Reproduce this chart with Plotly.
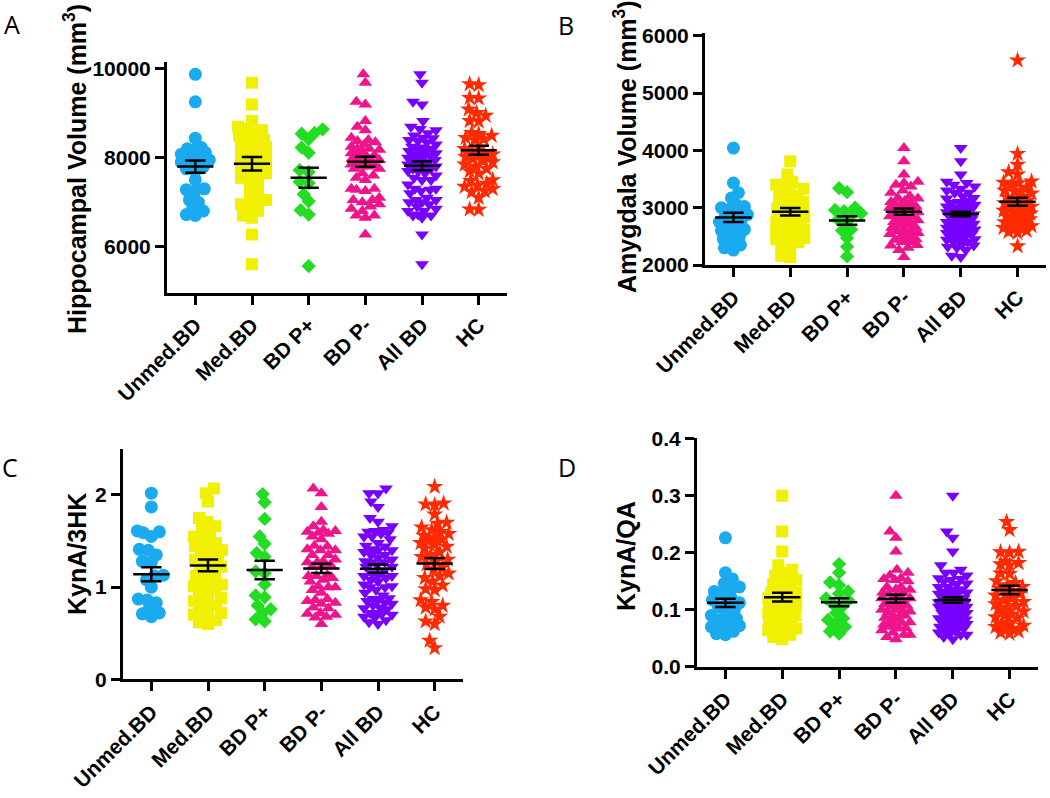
import math
import numpy as np
import plotly.graph_objects as go

W, H = 1050, 798

categories = ["Unmed.BD", "Med.BD", "BD P+", "BD P-", "All BD", "HC"]
colors = ["#1AAAF0", "#F0F000", "#22DD22", "#F0148C", "#7800FF", "#FF2A00"]
symbols = ["circle", "square", "diamond", "triangle-up", "triangle-down", "star"]
msizes = [13, 12, 11, 12, 12, 13]

# ---------------- Panel A : Hippocampal volume ----------------
A_unmed = [9880, 9260, 8440, 8230, 8200, 8180, 8120, 8080, 8030, 7980, 7950, 7900, 7850,
           7800, 7750, 7700, 7500, 7300, 7280, 7250, 7050, 7000, 6850, 6800, 6720, 6700]
A_med = [9690, 9200, 8830, 8700, 8650, 8620, 8550, 8500, 8450, 8400, 8380, 8350, 8300, 8250,
         8200, 8150, 8100, 8050, 8000, 7950, 7900, 7850, 7800, 7750, 7700, 7650, 7600, 7550,
         7500, 7400, 7300, 7200, 7100, 7050, 7000, 6950, 6900, 6800, 6700, 6650, 6270, 5600]
A_pplus = [8640, 8560, 8540, 8420, 8230, 8110, 7720, 7680, 7460, 7430, 7180, 7020, 6820, 6720, 5560]
A_hc = [9660, 9640, 9350, 9340, 9090, 9010, 8950, 8830, 8820, 8560, 8540, 8500, 8450, 8420,
        8400, 8230, 8200, 8150, 8100, 8080, 8050, 8020, 8000, 7980, 7950, 7900, 7850, 7800,
        7750, 7700, 7650, 7500, 7480, 7420, 7380, 7350, 7300, 7250, 7230, 7100, 6840, 6830]
A_mean = [7800, 7865, 7550, 7910, 7820, 8170]
A_sem = [140, 150, 225, 115, 100, 100]

# ---------------- Panel B : Amygdala volume ----------------
B_unmed = [4040, 3430, 3260, 3170, 3050, 3020, 3000, 2980, 2920, 2880, 2850, 2800, 2780,
           2750, 2700, 2650, 2620, 2600, 2550, 2500, 2450, 2400, 2350, 2300, 2260]
B_med = [3810, 3580, 3450, 3400, 3370, 3330, 3300, 3260, 3200, 3160, 3120, 3100, 3080, 3050,
         3020, 3000, 2980, 2970, 2940, 2900, 2880, 2870, 2840, 2810, 2790, 2760, 2720, 2700,
         2690, 2650, 2620, 2600, 2590, 2560, 2540, 2500, 2470, 2450, 2440, 2400, 2340, 2320,
         2160, 2140]
B_pplus = [3340, 3270, 3000, 2960, 2940, 2900, 2880, 2790, 2760, 2620, 2600, 2470, 2320, 2150]
B_hc = [5570, 3940, 3750, 3620, 3580, 3460, 3440, 3430, 3400, 3350, 3300, 3300, 3280, 3250,
        3200, 3180, 3150, 3120, 3100, 3080, 3050, 3020, 3000, 3000, 2980, 2950, 2950, 2920,
        2900, 2900, 2880, 2850, 2820, 2800, 2780, 2750, 2720, 2700, 2700, 2680, 2650, 2650,
        2620, 2600, 2580, 2560, 2330]
B_mean = [2830, 2930, 2775, 2930, 2890, 3105]
B_sem = [80, 65, 75, 55, 40, 70]

# ---------------- Panel C : KynA/3HK ----------------
C_unmed = [2.02, 1.87, 1.61, 1.60, 1.59, 1.55, 1.41, 1.40, 1.35, 1.28, 1.27, 1.13, 1.12,
           1.08, 1.00, 0.87, 0.86, 0.83, 0.77, 0.72, 0.71, 0.68]
C_med = [2.07, 2.02, 1.93, 1.75, 1.71, 1.66, 1.62, 1.58, 1.55, 1.52, 1.48, 1.45, 1.44, 1.40,
         1.38, 1.35, 1.32, 1.30, 1.27, 1.24, 1.22, 1.22, 1.18, 1.15, 1.12, 1.10, 1.06, 1.03,
         1.01, 1.00, 0.97, 0.94, 0.91, 0.88, 0.85, 0.82, 0.80, 0.78, 0.76, 0.72, 0.70, 0.67,
         0.64, 0.62, 0.60]
C_pplus = [2.01, 1.92, 1.74, 1.55, 1.47, 1.37, 1.33, 1.17, 1.15, 1.03, 0.91, 0.89, 0.80,
           0.76, 0.72, 0.65, 0.63]
C_hc = [2.09, 1.91, 1.90, 1.89, 1.79, 1.70, 1.69, 1.65, 1.62, 1.60, 1.58, 1.56, 1.54, 1.52,
        1.50, 1.48, 1.46, 1.44, 1.42, 1.38, 1.35, 1.33, 1.30, 1.28, 1.25, 1.22, 1.19, 1.15,
        1.12, 1.10, 1.06, 1.02, 0.98, 0.97, 0.86, 0.84, 0.80, 0.78, 0.76, 0.68, 0.63, 0.60,
        0.42, 0.34]
C_mean = [1.14, 1.236, 1.185, 1.203, 1.20, 1.257]
C_sem = [0.075, 0.063, 0.10, 0.05, 0.045, 0.06]

# ---------------- Panel D : KynA/QA ----------------
D_unmed = [0.226, 0.165, 0.154, 0.146, 0.140, 0.136, 0.132, 0.128, 0.120, 0.117, 0.112,
           0.108, 0.105, 0.100, 0.095, 0.090, 0.085, 0.082, 0.078, 0.072, 0.070, 0.068,
           0.062, 0.058, 0.056]
D_med = [0.300, 0.237, 0.202, 0.178, 0.170, 0.165, 0.160, 0.155, 0.152, 0.150, 0.145, 0.140,
         0.135, 0.130, 0.130, 0.128, 0.125, 0.120, 0.120, 0.117, 0.113, 0.110, 0.110, 0.107,
         0.105, 0.100, 0.100, 0.097, 0.094, 0.090, 0.090, 0.086, 0.083, 0.080, 0.077, 0.075,
         0.074, 0.070, 0.067, 0.064, 0.060, 0.056, 0.052, 0.048]
D_pplus = [0.180, 0.165, 0.148, 0.143, 0.132, 0.128, 0.120, 0.117, 0.110, 0.105, 0.094,
           0.085, 0.082, 0.075, 0.070, 0.062, 0.058]
D_hc = [0.254, 0.240, 0.202, 0.201, 0.200, 0.185, 0.182, 0.180, 0.178, 0.164, 0.163, 0.150,
        0.147, 0.143, 0.140, 0.137, 0.133, 0.130, 0.128, 0.125, 0.120, 0.117, 0.114, 0.110,
        0.107, 0.104, 0.100, 0.097, 0.092, 0.090, 0.087, 0.085, 0.078, 0.075, 0.072, 0.070,
        0.067, 0.065, 0.062, 0.060, 0.058]
D_mean = [0.112, 0.122, 0.113, 0.119, 0.117, 0.1345]
D_sem = [0.0073, 0.0075, 0.007, 0.007, 0.005, 0.0073]

y_titles = ["Hippocampal Volume (mm<sup>3</sup>)", "Amygdala Volume (mm<sup>3</sup>)",
            "KynA/3HK", "KynA/QA"]
panel_letters = ["A", "B", "C", "D"]


def build_groups(unmed, med, pplus, hc):
    """All BD = unmedicated + medicated; BD P- = All BD without the BD P+ subjects."""
    allbd = list(unmed) + list(med)
    rest = list(allbd)
    for v in pplus:
        j = min(range(len(rest)), key=lambda k: abs(rest[k] - v))
        rest.pop(j)
    return [list(unmed), list(med), list(pplus), rest, allbd, list(hc)]


def px_x(px):
    return px / W


def px_y(py):
    return 1 - py / H


# layout geometry (screen pixels)
panels = [
    dict(data=(A_unmed, A_med, A_pplus, A_hc), mean=A_mean, sem=A_sem,
         xpx=(167, 507), ypx=(62.3, 292.7), yrange=[4960, 10150], dtick=2000, tick0=0,
         fmt="d", title_xy=(75, 169), letter_xy=(12, 24)),
    dict(data=(B_unmed, B_med, B_pplus, B_hc), mean=B_mean, sem=B_sem,
         xpx=(705, 1046), ypx=(32.8, 265.0), yrange=[2000, 6050], dtick=1000, tick0=0,
         fmt="d", title_xy=(625, 147), letter_xy=(566, 25)),
    dict(data=(C_unmed, C_med, C_pplus, C_hc), mean=C_mean, sem=C_sem,
         xpx=(123, 463), ypx=(448.9, 679.3), yrange=[0, 2.5], dtick=1, tick0=0,
         fmt="d", title_xy=(77, 554), letter_xy=(10, 467)),
    dict(data=(D_unmed, D_med, D_pplus, D_hc), mean=D_mean, sem=D_sem,
         xpx=(697, 1038), ypx=(437.5, 666.7), yrange=[0, 0.402], dtick=0.1, tick0=0,
         fmt=".1f", title_xy=(626, 556), letter_xy=(567, 467)),
]


def swarm(vals, px_per_unit, dmin=8.5, wmax=14.0):
    order = sorted(range(len(vals)), key=lambda i: vals[i])
    cands = sorted(np.arange(-wmax, wmax + 0.01, 1.0), key=lambda c: (abs(c), c))
    placed = []
    xs = [0.0] * len(vals)
    for i in order:
        y = vals[i] * px_per_unit
        best, bestd = 0.0, -1.0
        for c in cands:
            d = math.inf
            for (px, py) in placed:
                if abs(y - py) < dmin:
                    d = min(d, math.hypot(c - px, y - py))
            if d >= dmin:
                best = c
                break
            if d > bestd + 0.5:
                bestd, best = d, c
        placed.append((best, y))
        xs[i] = best
    return xs


fig = go.Figure()
FONT = "Liberation Sans, Arial, sans-serif"

for p_i, p in enumerate(panels):
    sfx = "" if p_i == 0 else str(p_i + 1)
    xa, ya = "x" + sfx, "y" + sfx
    groups = build_groups(*p["data"])
    x0, x1 = p["xpx"]
    cat_px = (x1 - x0) / 6.0
    y_top, y_bot = p["ypx"]
    px_per_unit = (y_bot - y_top) / (p["yrange"][1] - p["yrange"][0])

    for g_i, vals in enumerate(groups):
        offs = swarm(vals, px_per_unit)
        fig.add_trace(go.Scatter(
            x=[g_i + o / cat_px for o in offs], y=vals, mode="markers",
            xaxis=xa, yaxis=ya, showlegend=False, hoverinfo="skip",
            marker=dict(symbol=symbols[g_i], color=colors[g_i], size=msizes[g_i],
                        line=dict(width=0))))

    # mean +/- SEM bars
    ex, ey = [], []
    for g_i, (m, s) in enumerate(zip(p["mean"], p["sem"])):
        ex += [g_i - 0.32, g_i + 0.32, None, g_i, g_i, None,
               g_i - 0.18, g_i + 0.18, None, g_i - 0.18, g_i + 0.18, None]
        ey += [m, m, None, m - s, m + s, None, m - s, m - s, None, m + s, m + s, None]
    fig.add_trace(go.Scatter(x=ex, y=ey, mode="lines", xaxis=xa, yaxis=ya,
                             showlegend=False, hoverinfo="skip",
                             line=dict(color="black", width=2.5)))

    fig.layout["xaxis" + sfx] = dict(
        domain=[px_x(x0), px_x(x1)], range=[-0.5, 5.5], anchor=ya, automargin=False,
        tickmode="array", tickvals=list(range(6)), ticktext=categories,
        tickangle=-45, ticks="outside", ticklen=9, tickwidth=2.5, tickcolor="black",
        showline=True, linewidth=3, linecolor="black", showgrid=False, zeroline=False,
        tickfont=dict(family=FONT, size=21, color="black", weight="bold"))
    fig.layout["yaxis" + sfx] = dict(
        domain=[px_y(y_bot), px_y(y_top)], range=p["yrange"], anchor=xa,
        automargin=False,
        tick0=p["tick0"], dtick=p["dtick"], tickformat=p["fmt"],
        ticks="outside", ticklen=9, tickwidth=2.5, tickcolor="black",
        showline=True, linewidth=3, linecolor="black", showgrid=False, zeroline=False,
        tickfont=dict(family=FONT, size=21, color="black", weight="bold"))

    tx, ty = p["title_xy"]
    fig.add_annotation(text=y_titles[p_i], x=px_x(tx), y=px_y(ty), xref="paper", yref="paper",
                       showarrow=False, textangle=-90, xanchor="center", yanchor="middle",
                       font=dict(family=FONT, size=25, color="black", weight="bold"))
    lx, ly = p["letter_xy"]
    fig.add_annotation(text=panel_letters[p_i], x=px_x(lx), y=px_y(ly), xref="paper",
                       yref="paper", showarrow=False, xanchor="center", yanchor="middle",
                       font=dict(family="Open Sans, DejaVu Sans, sans-serif", size=25,
                                 color="black"))

fig.update_layout(width=W, height=H, margin=dict(l=0, r=0, t=0, b=0, autoexpand=False),
                  paper_bgcolor="white", plot_bgcolor="white", showlegend=False)

# remove the browser's default 8px page margin so the figure sits at the window origin
fig.write_html("out.html", config={"displayModeBar": False},
               post_script="document.body.style.margin='0';"
                           "document.body.style.overflow='hidden';")
